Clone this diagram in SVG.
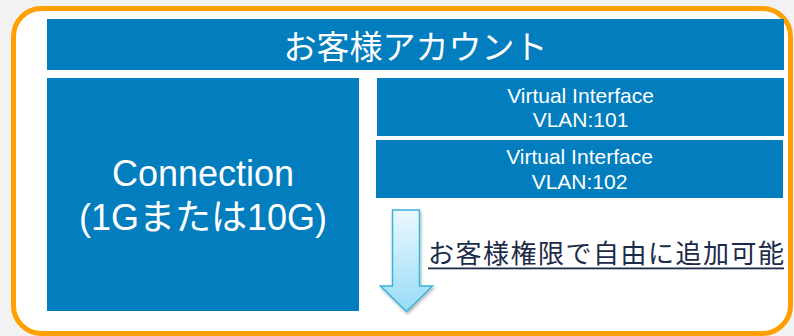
<svg xmlns="http://www.w3.org/2000/svg" width="794" height="336" viewBox="0 0 794 336">
  <defs>
    <style>
      .blue { fill: #027dbd; }
      .wt { fill: #ffffff; font-family: "Liberation Sans", "Noto Sans CJK JP", sans-serif; text-anchor: middle; }
      .jp { font-family: "Noto Sans CJK JP", sans-serif; }
    </style>
    <linearGradient id="arrowGrad" x1="0" y1="0" x2="0" y2="1">
      <stop offset="0" stop-color="#eaf8fe"/>
      <stop offset="1" stop-color="#98dcf6"/>
    </linearGradient>
    <filter id="shadow" x="-30%" y="-10%" width="160%" height="130%">
      <feDropShadow dx="1" dy="2" stdDeviation="1.5" flood-color="#000" flood-opacity="0.3"/>
    </filter>
  </defs>
  <rect x="0" y="0" width="794" height="336" fill="#f2f2f2"/>
  <g id="account-frame">
    <rect x="13.5" y="8.5" width="777" height="325" rx="28" ry="28" fill="#ffffff" stroke="#ff9f00" stroke-width="5"/>
  </g>
  <g id="account-title">
    <rect class="blue" x="47" y="19" width="737" height="51"/>
    <text class="wt jp" x="415.5" y="59" font-size="33">お客様アカウント</text>
  </g>
  <g id="connection">
    <rect class="blue" x="47" y="78" width="312" height="233"/>
    <text class="wt" x="203" y="186" font-size="36">Connection</text>
    <text class="wt" x="203" y="230" font-size="36">(1Gまたは10G)</text>
  </g>
  <g id="vif-101">
    <rect class="blue" x="377" y="78" width="407" height="58"/>
    <text class="wt" x="580.5" y="103" font-size="21">Virtual Interface</text>
    <text class="wt" x="580.5" y="127" font-size="21">VLAN:101</text>
  </g>
  <g id="vif-102">
    <rect class="blue" x="376" y="140" width="407" height="58"/>
    <text class="wt" x="579.5" y="164" font-size="21">Virtual Interface</text>
    <text class="wt" x="579.5" y="189" font-size="21">VLAN:102</text>
  </g>
  <g id="connectors">
    <path d="M392.5,210 L419.5,210 L419.5,286 L432.5,286 L406.5,311.5 L380.5,286 L392.5,286 Z" fill="url(#arrowGrad)" stroke="#3ab2dc" stroke-width="1.5" stroke-linejoin="miter" filter="url(#shadow)"/>
  </g>
  <g id="note">
    <text class="jp" x="428" y="263" font-size="26" fill="#1c2b48" textLength="356" lengthAdjust="spacing">お客様権限で自由に追加可能</text>
    <rect x="428" y="267.5" width="356" height="1.8" fill="#1c2b48"/>
  </g>
</svg>
